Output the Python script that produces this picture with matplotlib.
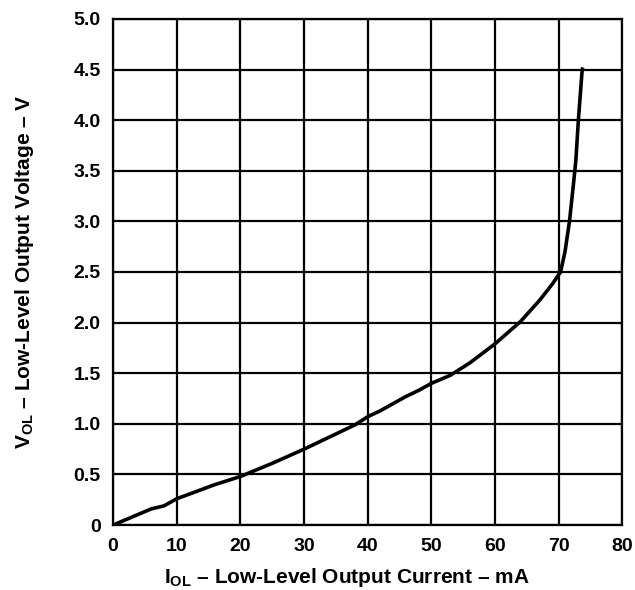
import numpy as np
from matplotlib import pyplot as plt

# IOL (mA) vs VOL (V)
current_ma = [0, 3, 6, 8, 10, 13, 16, 20, 25, 30, 35, 38, 40, 42, 44, 46, 48, 50,
              53, 56, 60, 62, 64, 67, 69, 70.3, 71, 71.7, 72.3, 72.7, 73.1, 73.4, 73.7, 73.8]
voltage_v = [0, 0.08, 0.16, 0.19, 0.26, 0.33, 0.40, 0.48, 0.61, 0.75, 0.90, 0.99, 1.07, 1.13,
             1.20, 1.27, 1.33, 1.40, 1.48, 1.60, 1.79, 1.90, 2.01, 2.22, 2.38, 2.50, 2.70,
             3.00, 3.35, 3.60, 4.00, 4.25, 4.50, 4.52]

x_ticks = [0, 10, 20, 30, 40, 50, 60, 70, 80]
y_ticks = [0, 0.5, 1.0, 1.5, 2.0, 2.5, 3.0, 3.5, 4.0, 4.5, 5.0]
y_tick_labels = ['0', '0.5', '1.0', '1.5', '2.0', '2.5', '3.0', '3.5', '4.0', '4.5', '5.0']

plt.rcParams['font.family'] = ['Liberation Sans', 'DejaVu Sans']
plt.rcParams['font.weight'] = 'bold'
plt.rcParams['mathtext.fontset'] = 'custom'
plt.rcParams['mathtext.bf'] = 'Liberation Sans:bold'
plt.rcParams['mathtext.rm'] = 'Liberation Sans:bold'

fig = plt.figure(figsize=(6.35, 5.9), dpi=100)
ax = fig.add_axes([0.178, 0.110, 0.802, 0.858])

ax.plot(current_ma, voltage_v, color='black', linewidth=2.6, solid_capstyle='butt')

ax.set_xlim(0, 80)
ax.set_ylim(0, 5)
ax.set_xticks(x_ticks)
ax.set_yticks(y_ticks)
ax.set_yticklabels(y_tick_labels)
ax.tick_params(length=0, labelsize=14, pad=9)
for lbl in ax.get_xticklabels() + ax.get_yticklabels():
    lbl.set_fontweight('bold')

ax.grid(True, color='black', linewidth=1.6)
for sp in ax.spines.values():
    sp.set_linewidth(1.6)

ax.set_xlabel(r'$\mathbf{I_{OL}}$ – Low-Level Output Current – mA', fontsize=15,
              fontweight='bold')
ax.xaxis.set_label_coords(0.46, -0.080)
ax.set_ylabel(r'$\mathbf{V_{OL}}$ – Low-Level Output Voltage – V', fontsize=15,
              fontweight='bold', labelpad=27)

plt.savefig('out.png', dpi=100)
